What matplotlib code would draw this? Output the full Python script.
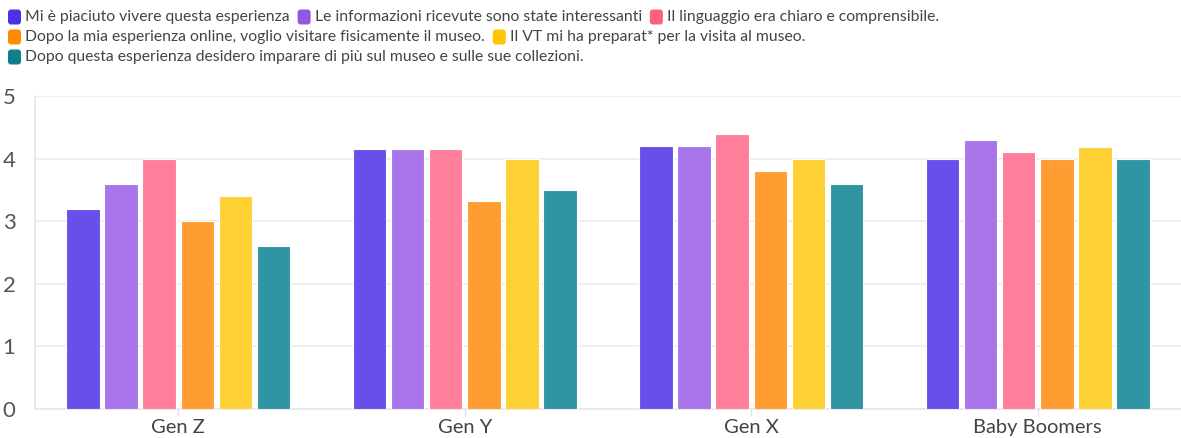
import matplotlib.pyplot as plt
from matplotlib.patches import FancyBboxPatch
from matplotlib.transforms import IdentityTransform
import numpy as np

plt.rcParams['font.family'] = ['Lato', 'DejaVu Sans']

groups = ['Gen Z', 'Gen Y', 'Gen X', 'Baby Boomers']
series = [
    'Mi è piaciuto vivere questa esperienza',
    'Le informazioni ricevute sono state interessanti',
    'Il linguaggio era chiaro e comprensibile.',
    'Dopo la mia esperienza online, voglio visitare fisicamente il museo.',
    'Il VT mi ha preparat* per la visita al museo.',
    'Dopo questa esperienza desidero imparare di più sul museo e sulle sue collezioni.',
]
values = [
    [3.2, 4.15, 4.2, 4.0],
    [3.6, 4.15, 4.2, 4.3],
    [4.0, 4.15, 4.4, 4.1],
    [3.0, 3.33, 3.8, 4.0],
    [3.4, 4.0, 4.0, 4.18],
    [2.6, 3.5, 3.6, 4.0],
]
bar_colors = ['#6650e9', '#a875ea', '#ff7f9b', '#ff9d33', '#ffd034', '#2f95a2']
key_colors = ['#4c2fe6', '#9655e1', '#ff5f83', '#ff8b00', '#ffc500', '#107f8d']
legend_rows = [[0, 1, 2], [3, 4], [5]]

W, H = 1181, 438
fig = plt.figure(figsize=(W / 100, H / 100), dpi=100)
ax = fig.add_axes([35 / W, (H - 409) / H, 1146 / W, 313 / H])

x = np.arange(len(groups))
pitch = 0.1333
width = 0.117
for i, vals in enumerate(values):
    ax.bar(x + (i - 2.5) * pitch, vals, width=width, color=bar_colors[i],
           edgecolor='white', linewidth=0.8, zorder=3)

ax.set_xlim(-0.5, 3.5)
ax.set_ylim(0, 5)
ax.set_yticks(range(6))
ax.set_xticks(x)
ax.set_xticklabels(groups)
ax.grid(axis='y', color='#ececec', linewidth=1.2, zorder=0)
for s in ['top', 'right']:
    ax.spines[s].set_visible(False)
for s in ['left', 'bottom']:
    ax.spines[s].set_color('#e6e6e6')
    ax.spines[s].set_linewidth(1.2)
ax.tick_params(axis='y', length=0, pad=14, labelsize=16, labelcolor='#555555')
ax.tick_params(axis='x', length=5, color='#e0e0e0', pad=2, labelsize=14.5,
               labelcolor='#444444')

# legend drawn as rows of rounded keys + labels (pixel coordinates)
renderer = fig.canvas.get_renderer()
row_y = [17, 37, 57]
for r, row in enumerate(legend_rows):
    xp = 8
    yc = H - row_y[r]
    for i in row:
        box = FancyBboxPatch((xp, yc - 7.5), 13, 15,
                             boxstyle='round,pad=0,rounding_size=3',
                             transform=IdentityTransform(),
                             facecolor=key_colors[i], edgecolor='none')
        fig.patches.append(box)
        t = fig.text((xp + 17) / W, yc / H, series[i], fontsize=11.3,
                     color='#444444', va='center', ha='left')
        bb = t.get_window_extent(renderer)
        xp = bb.x1 + 8

fig.savefig('out.png', dpi=100)
